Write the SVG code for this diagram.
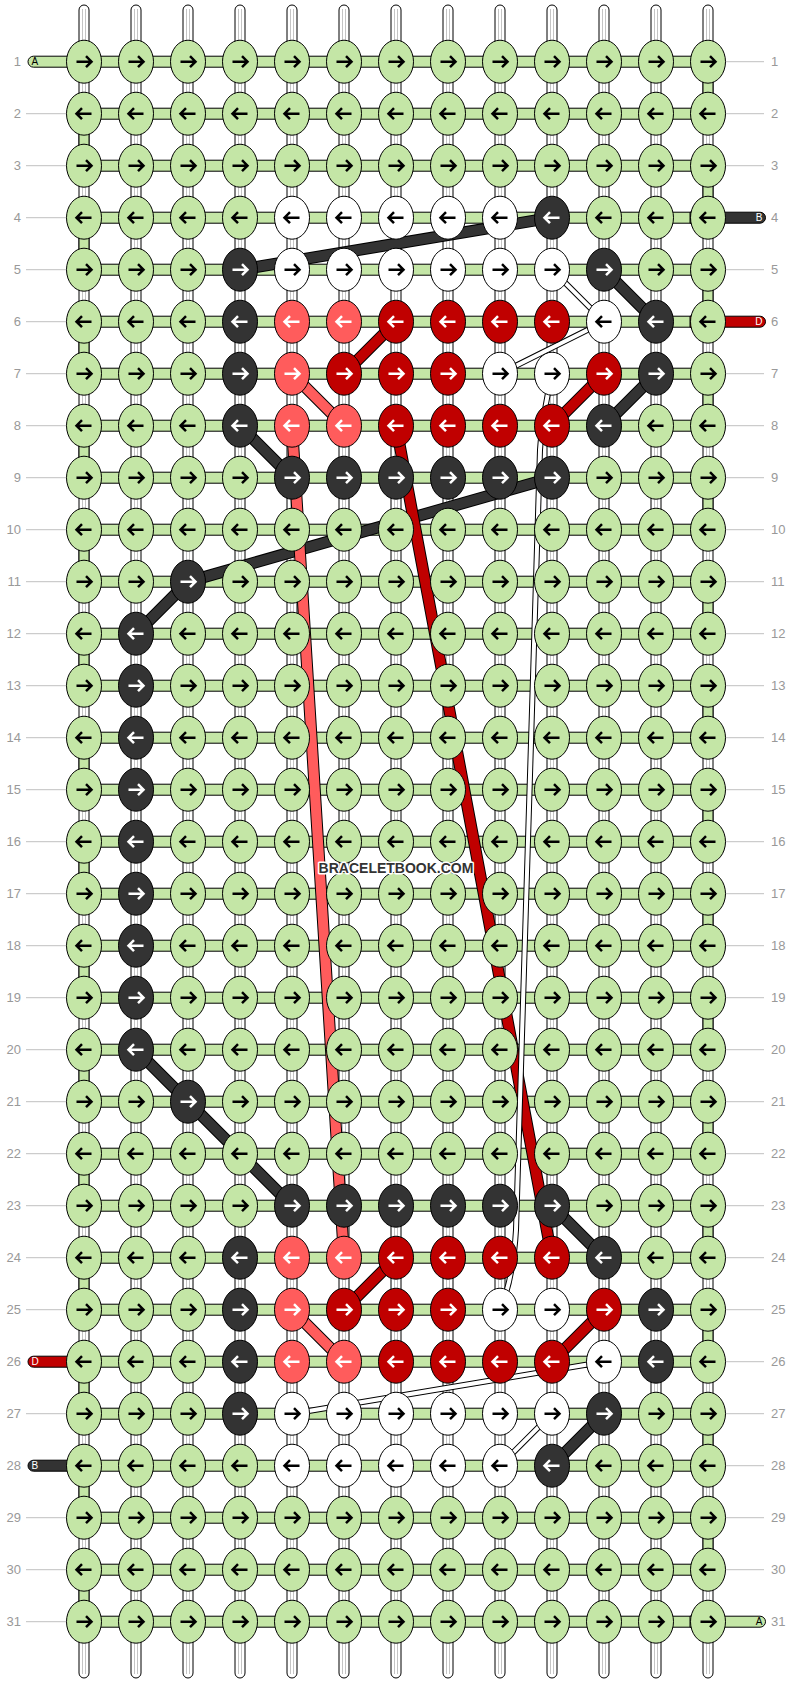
<svg xmlns="http://www.w3.org/2000/svg" xmlns:xlink="http://www.w3.org/1999/xlink" width="792" height="1684" viewBox="0 0 792 1684">
<style>
.t{font-family:"Liberation Sans",Arial,sans-serif;font-size:13px;fill:#999}
.tl{font-family:"Liberation Sans",Arial,sans-serif;font-size:10px}
.ln{stroke:#c0c0c0;stroke-width:1}
.ab{stroke:#000;stroke-width:2.5;fill:none}
.aw{stroke:#fff;stroke-width:2.5;fill:none}
.k{stroke:#000;stroke-width:1}
.G{fill:#c4e6a6}.W{fill:#fff}.D{fill:#333}.R{fill:#c00000}.S{fill:#ff5c5c}
.vs{fill:#fff;stroke:#000;stroke-width:1}
.vc{stroke:#c4c4c4;stroke-width:1;fill:none}
.hb{fill:#c4e6a6;stroke:#000;stroke-width:1}
.ge{fill:#c4e6a6;stroke:#000;stroke-width:1}
.o12{stroke:#000;stroke-width:12;fill:none}
.cd{stroke:#333;stroke-width:10;fill:none}
.cr{stroke:#c00000;stroke-width:10;fill:none}
.cs{stroke:#ff5c5c;stroke-width:10;fill:none}
.o6{stroke:#000;stroke-width:6;fill:none}
.cw{stroke:#fff;stroke-width:4;fill:none}
</style>
<defs>
<path id="pr" d="M-7.5,0H7.5M2,-5.5L7.5,0L2,5.5"/>
<path id="pl" d="M7.5,0H-7.5M-2,-5.5L-7.5,0L-2,5.5"/>
<g id="gR"><ellipse class="k G" rx="17.5" ry="21.5"/><use href="#pr" class="ab"/></g>
<g id="gL"><ellipse class="k G" rx="17.5" ry="21.5"/><use href="#pl" class="ab"/></g>
<g id="wR"><ellipse class="k W" rx="17.5" ry="21.5"/><use href="#pr" class="ab"/></g>
<g id="wL"><ellipse class="k W" rx="17.5" ry="21.5"/><use href="#pl" class="ab"/></g>
<g id="dR"><ellipse class="k D" rx="17.5" ry="21.5"/><use href="#pr" class="aw"/></g>
<g id="dL"><ellipse class="k D" rx="17.5" ry="21.5"/><use href="#pl" class="aw"/></g>
<g id="rR"><ellipse class="k R" rx="17.5" ry="21.5"/><use href="#pr" class="aw"/></g>
<g id="rL"><ellipse class="k R" rx="17.5" ry="21.5"/><use href="#pl" class="aw"/></g>
<g id="sR"><ellipse class="k S" rx="17.5" ry="21.5"/><use href="#pr" class="aw"/></g>
<g id="sL"><ellipse class="k S" rx="17.5" ry="21.5"/><use href="#pl" class="aw"/></g>
<g id="vcol"><rect class="vs" x="-5" y="5" width="10" height="1673" rx="5"/><path class="vc" d="M-1.5,9V1674M1.5,9V1674"/></g>
</defs>
<rect width="792" height="1684" fill="#fff"/>
<g id="labels">
<g class="t" text-anchor="end">
<text x="21" y="66">1</text><text x="21" y="118">2</text><text x="21" y="170">3</text><text x="21" y="222">4</text><text x="21" y="274">5</text><text x="21" y="326">6</text><text x="21" y="378">7</text><text x="21" y="430">8</text><text x="21" y="482">9</text><text x="21" y="534">10</text><text x="21" y="586">11</text><text x="21" y="638">12</text><text x="21" y="690">13</text><text x="21" y="742">14</text><text x="21" y="794">15</text><text x="21" y="846">16</text><text x="21" y="898">17</text><text x="21" y="950">18</text><text x="21" y="1002">19</text><text x="21" y="1054">20</text><text x="21" y="1106">21</text><text x="21" y="1158">22</text><text x="21" y="1210">23</text><text x="21" y="1262">24</text><text x="21" y="1314">25</text><text x="21" y="1366">26</text><text x="21" y="1418">27</text><text x="21" y="1470">28</text><text x="21" y="1522">29</text><text x="21" y="1574">30</text><text x="21" y="1626">31</text>
</g>
<g class="t">
<text x="771" y="66">1</text><text x="771" y="118">2</text><text x="771" y="170">3</text><text x="771" y="222">4</text><text x="771" y="274">5</text><text x="771" y="326">6</text><text x="771" y="378">7</text><text x="771" y="430">8</text><text x="771" y="482">9</text><text x="771" y="534">10</text><text x="771" y="586">11</text><text x="771" y="638">12</text><text x="771" y="690">13</text><text x="771" y="742">14</text><text x="771" y="794">15</text><text x="771" y="846">16</text><text x="771" y="898">17</text><text x="771" y="950">18</text><text x="771" y="1002">19</text><text x="771" y="1054">20</text><text x="771" y="1106">21</text><text x="771" y="1158">22</text><text x="771" y="1210">23</text><text x="771" y="1262">24</text><text x="771" y="1314">25</text><text x="771" y="1366">26</text><text x="771" y="1418">27</text><text x="771" y="1470">28</text><text x="771" y="1522">29</text><text x="771" y="1574">30</text><text x="771" y="1626">31</text>
</g>
<path class="ln" d="M26,113.7H66M26,165.7H66M26,217.7H66M26,269.7H66M26,321.7H66M26,373.7H66M26,425.7H66M26,477.7H66M26,529.7H66M26,581.7H66M26,633.7H66M26,685.7H66M26,737.7H66M26,789.7H66M26,841.7H66M26,893.7H66M26,945.7H66M26,997.7H66M26,1049.7H66M26,1101.7H66M26,1153.7H66M26,1205.7H66M26,1257.7H66M26,1309.7H66M26,1413.7H66M26,1517.7H66M26,1569.7H66M26,1621.7H66"/>
<path class="ln" d="M726,61.7H764M726,113.7H764M726,165.7H764M726,269.7H764M726,373.7H764M726,425.7H764M726,477.7H764M726,529.7H764M726,581.7H764M726,633.7H764M726,685.7H764M726,737.7H764M726,789.7H764M726,841.7H764M726,893.7H764M726,945.7H764M726,997.7H764M726,1049.7H764M726,1101.7H764M726,1153.7H764M726,1205.7H764M726,1257.7H764M726,1309.7H764M726,1361.7H764M726,1413.7H764M726,1465.7H764M726,1517.7H764M726,1569.7H764"/>
</g>
<g id="strings">
<use href="#vcol" x="84"/><use href="#vcol" x="136"/><use href="#vcol" x="188"/><use href="#vcol" x="240"/><use href="#vcol" x="292"/><use href="#vcol" x="344"/><use href="#vcol" x="396"/><use href="#vcol" x="448"/><use href="#vcol" x="500"/><use href="#vcol" x="552"/><use href="#vcol" x="604"/><use href="#vcol" x="656"/><use href="#vcol" x="708"/>
<g class="ge">
<rect x="79" y="113.7" width="10" height="52"/><rect x="79" y="217.7" width="10" height="52"/><rect x="79" y="321.7" width="10" height="52"/><rect x="79" y="425.7" width="10" height="52"/><rect x="79" y="529.7" width="10" height="52"/><rect x="79" y="633.7" width="10" height="52"/><rect x="79" y="737.7" width="10" height="52"/><rect x="79" y="841.7" width="10" height="52"/><rect x="79" y="945.7" width="10" height="52"/><rect x="79" y="1049.7" width="10" height="52"/><rect x="79" y="1153.7" width="10" height="52"/><rect x="79" y="1257.7" width="10" height="52"/><rect x="79" y="1361.7" width="10" height="52"/><rect x="79" y="1465.7" width="10" height="52"/><rect x="79" y="1569.7" width="10" height="52"/>
<rect x="703" y="61.7" width="10" height="52"/><rect x="703" y="165.7" width="10" height="52"/><rect x="703" y="269.7" width="10" height="52"/><rect x="703" y="373.7" width="10" height="52"/><rect x="703" y="477.7" width="10" height="52"/><rect x="703" y="581.7" width="10" height="52"/><rect x="703" y="685.7" width="10" height="52"/><rect x="703" y="789.7" width="10" height="52"/><rect x="703" y="893.7" width="10" height="52"/><rect x="703" y="997.7" width="10" height="52"/><rect x="703" y="1101.7" width="10" height="52"/><rect x="703" y="1205.7" width="10" height="52"/><rect x="703" y="1309.7" width="10" height="52"/><rect x="703" y="1413.7" width="10" height="52"/><rect x="703" y="1517.7" width="10" height="52"/>
</g>
<g class="hb">
<rect x="84" y="56.2" width="624" height="11"/><rect x="84" y="108.2" width="624" height="11"/><rect x="84" y="160.2" width="624" height="11"/><rect x="84" y="212.2" width="624" height="11"/><rect x="84" y="264.2" width="624" height="11"/><rect x="84" y="316.2" width="624" height="11"/><rect x="84" y="368.2" width="624" height="11"/><rect x="84" y="420.2" width="624" height="11"/><rect x="84" y="472.2" width="624" height="11"/><rect x="84" y="524.2" width="624" height="11"/><rect x="84" y="576.2" width="624" height="11"/><rect x="84" y="628.2" width="624" height="11"/><rect x="84" y="680.2" width="624" height="11"/><rect x="84" y="732.2" width="624" height="11"/><rect x="84" y="784.2" width="624" height="11"/><rect x="84" y="836.2" width="624" height="11"/><rect x="84" y="888.2" width="624" height="11"/><rect x="84" y="940.2" width="624" height="11"/><rect x="84" y="992.2" width="624" height="11"/><rect x="84" y="1044.2" width="624" height="11"/><rect x="84" y="1096.2" width="624" height="11"/><rect x="84" y="1148.2" width="624" height="11"/><rect x="84" y="1200.2" width="624" height="11"/><rect x="84" y="1252.2" width="624" height="11"/><rect x="84" y="1304.2" width="624" height="11"/><rect x="84" y="1356.2" width="624" height="11"/><rect x="84" y="1408.2" width="624" height="11"/><rect x="84" y="1460.2" width="624" height="11"/><rect x="84" y="1512.2" width="624" height="11"/><rect x="84" y="1564.2" width="624" height="11"/><rect x="84" y="1616.2" width="624" height="11"/>
</g>
</g>
<g id="tails" stroke="#000" stroke-width="1">
<path d="M75,56.2H33.5a5.5,5.5 0 0 0 0,11H75Z" fill="#c4e6a6"/>
<path d="M75,1356.2H33.5a5.5,5.5 0 0 0 0,11H75Z" fill="#c00000"/>
<path d="M75,1460.2H33.5a5.5,5.5 0 0 0 0,11H75Z" fill="#333"/>
<path d="M690,212.2H760a5.5,5.5 0 0 1 0,11H690Z" fill="#333"/>
<path d="M690,316.2H760a5.5,5.5 0 0 1 0,11H690Z" fill="#c00000"/>
<path d="M690,1616.2H760a5.5,5.5 0 0 1 0,11H690Z" fill="#c4e6a6"/>
</g>
<g id="tail-labels" class="tl">
<text x="31.5" y="65.3" fill="#000">A</text>
<text x="31.5" y="1365.3" fill="#fff">D</text>
<text x="31.5" y="1469.3" fill="#fff">B</text>
<text x="762.5" y="221.3" fill="#fff" text-anchor="end">B</text>
<text x="762.5" y="325.3" fill="#fff" text-anchor="end">D</text>
<text x="762.5" y="1625.3" fill="#000" text-anchor="end">A</text>
</g>
<g id="connectors">
<path class="o12" d="M240,269.7L552,217.7M604,269.7L656,321.7M656,373.7L604,425.7M240,425.7L292,477.7M552,477.7L188,581.7L136,633.7M136,1049.7L292,1205.7M552,1205.7L604,1257.7M604,1413.7L552,1465.7"/>
<path class="cd" d="M240,269.7L552,217.7M604,269.7L656,321.7M656,373.7L604,425.7M240,425.7L292,477.7M552,477.7L188,581.7L136,633.7M136,1049.7L292,1205.7M552,1205.7L604,1257.7M604,1413.7L552,1465.7"/>
<path class="o12" d="M396,321.7L344,373.7M552,425.7L604,373.7M396,425.7L552,1257.7M344,1309.7L396,1257.7M552,1361.7L604,1309.7"/>
<path class="cr" d="M396,321.7L344,373.7M552,425.7L604,373.7M396,425.7L552,1257.7M344,1309.7L396,1257.7M552,1361.7L604,1309.7"/>
<path class="o12" d="M292,373.7L344,425.7M292,425.7L344,1257.7M292,1309.7L344,1361.7"/>
<path class="cs" d="M292,373.7L344,425.7M292,425.7L344,1257.7M292,1309.7L344,1361.7"/>
<path class="o6" d="M552,269.7L604,321.7L500,373.7M552,373.7Q542,420 540,450L516,1230Q513,1280 500,1309.7M604,1361.7L292,1413.7M552,1413.7L500,1465.7"/>
<path class="cw" d="M552,269.7L604,321.7L500,373.7M552,373.7Q542,420 540,450L516,1230Q513,1280 500,1309.7M604,1361.7L292,1413.7M552,1413.7L500,1465.7"/>
</g>
<g id="knots">
<g id="row1" transform="translate(0,61.7)"><use id="k1-1" href="#gR" x="84"/><use id="k1-2" href="#gR" x="136"/><use id="k1-3" href="#gR" x="188"/><use id="k1-4" href="#gR" x="240"/><use id="k1-5" href="#gR" x="292"/><use id="k1-6" href="#gR" x="344"/><use id="k1-7" href="#gR" x="396"/><use id="k1-8" href="#gR" x="448"/><use id="k1-9" href="#gR" x="500"/><use id="k1-10" href="#gR" x="552"/><use id="k1-11" href="#gR" x="604"/><use id="k1-12" href="#gR" x="656"/><use id="k1-13" href="#gR" x="708"/></g>
<g id="row2" transform="translate(0,113.7)"><use id="k2-1" href="#gL" x="84"/><use id="k2-2" href="#gL" x="136"/><use id="k2-3" href="#gL" x="188"/><use id="k2-4" href="#gL" x="240"/><use id="k2-5" href="#gL" x="292"/><use id="k2-6" href="#gL" x="344"/><use id="k2-7" href="#gL" x="396"/><use id="k2-8" href="#gL" x="448"/><use id="k2-9" href="#gL" x="500"/><use id="k2-10" href="#gL" x="552"/><use id="k2-11" href="#gL" x="604"/><use id="k2-12" href="#gL" x="656"/><use id="k2-13" href="#gL" x="708"/></g>
<g id="row3" transform="translate(0,165.7)"><use id="k3-1" href="#gR" x="84"/><use id="k3-2" href="#gR" x="136"/><use id="k3-3" href="#gR" x="188"/><use id="k3-4" href="#gR" x="240"/><use id="k3-5" href="#gR" x="292"/><use id="k3-6" href="#gR" x="344"/><use id="k3-7" href="#gR" x="396"/><use id="k3-8" href="#gR" x="448"/><use id="k3-9" href="#gR" x="500"/><use id="k3-10" href="#gR" x="552"/><use id="k3-11" href="#gR" x="604"/><use id="k3-12" href="#gR" x="656"/><use id="k3-13" href="#gR" x="708"/></g>
<g id="row4" transform="translate(0,217.7)"><use id="k4-1" href="#gL" x="84"/><use id="k4-2" href="#gL" x="136"/><use id="k4-3" href="#gL" x="188"/><use id="k4-4" href="#gL" x="240"/><use id="k4-5" href="#wL" x="292"/><use id="k4-6" href="#wL" x="344"/><use id="k4-7" href="#wL" x="396"/><use id="k4-8" href="#wL" x="448"/><use id="k4-9" href="#wL" x="500"/><use id="k4-10" href="#dL" x="552"/><use id="k4-11" href="#gL" x="604"/><use id="k4-12" href="#gL" x="656"/><use id="k4-13" href="#gL" x="708"/></g>
<g id="row5" transform="translate(0,269.7)"><use id="k5-1" href="#gR" x="84"/><use id="k5-2" href="#gR" x="136"/><use id="k5-3" href="#gR" x="188"/><use id="k5-4" href="#dR" x="240"/><use id="k5-5" href="#wR" x="292"/><use id="k5-6" href="#wR" x="344"/><use id="k5-7" href="#wR" x="396"/><use id="k5-8" href="#wR" x="448"/><use id="k5-9" href="#wR" x="500"/><use id="k5-10" href="#wR" x="552"/><use id="k5-11" href="#dR" x="604"/><use id="k5-12" href="#gR" x="656"/><use id="k5-13" href="#gR" x="708"/></g>
<g id="row6" transform="translate(0,321.7)"><use id="k6-1" href="#gL" x="84"/><use id="k6-2" href="#gL" x="136"/><use id="k6-3" href="#gL" x="188"/><use id="k6-4" href="#dL" x="240"/><use id="k6-5" href="#sL" x="292"/><use id="k6-6" href="#sL" x="344"/><use id="k6-7" href="#rL" x="396"/><use id="k6-8" href="#rL" x="448"/><use id="k6-9" href="#rL" x="500"/><use id="k6-10" href="#rL" x="552"/><use id="k6-11" href="#wL" x="604"/><use id="k6-12" href="#dL" x="656"/><use id="k6-13" href="#gL" x="708"/></g>
<g id="row7" transform="translate(0,373.7)"><use id="k7-1" href="#gR" x="84"/><use id="k7-2" href="#gR" x="136"/><use id="k7-3" href="#gR" x="188"/><use id="k7-4" href="#dR" x="240"/><use id="k7-5" href="#sR" x="292"/><use id="k7-6" href="#rR" x="344"/><use id="k7-7" href="#rR" x="396"/><use id="k7-8" href="#rR" x="448"/><use id="k7-9" href="#wR" x="500"/><use id="k7-10" href="#wR" x="552"/><use id="k7-11" href="#rR" x="604"/><use id="k7-12" href="#dR" x="656"/><use id="k7-13" href="#gR" x="708"/></g>
<g id="row8" transform="translate(0,425.7)"><use id="k8-1" href="#gL" x="84"/><use id="k8-2" href="#gL" x="136"/><use id="k8-3" href="#gL" x="188"/><use id="k8-4" href="#dL" x="240"/><use id="k8-5" href="#sL" x="292"/><use id="k8-6" href="#sL" x="344"/><use id="k8-7" href="#rL" x="396"/><use id="k8-8" href="#rL" x="448"/><use id="k8-9" href="#rL" x="500"/><use id="k8-10" href="#rL" x="552"/><use id="k8-11" href="#dL" x="604"/><use id="k8-12" href="#gL" x="656"/><use id="k8-13" href="#gL" x="708"/></g>
<g id="row9" transform="translate(0,477.7)"><use id="k9-1" href="#gR" x="84"/><use id="k9-2" href="#gR" x="136"/><use id="k9-3" href="#gR" x="188"/><use id="k9-4" href="#gR" x="240"/><use id="k9-5" href="#dR" x="292"/><use id="k9-6" href="#dR" x="344"/><use id="k9-7" href="#dR" x="396"/><use id="k9-8" href="#dR" x="448"/><use id="k9-9" href="#dR" x="500"/><use id="k9-10" href="#dR" x="552"/><use id="k9-11" href="#gR" x="604"/><use id="k9-12" href="#gR" x="656"/><use id="k9-13" href="#gR" x="708"/></g>
<g id="row10" transform="translate(0,529.7)"><use id="k10-1" href="#gL" x="84"/><use id="k10-2" href="#gL" x="136"/><use id="k10-3" href="#gL" x="188"/><use id="k10-4" href="#gL" x="240"/><use id="k10-5" href="#gL" x="292"/><use id="k10-6" href="#gL" x="344"/><use id="k10-7" href="#gL" x="396"/><use id="k10-8" href="#gL" x="448"/><use id="k10-9" href="#gL" x="500"/><use id="k10-10" href="#gL" x="552"/><use id="k10-11" href="#gL" x="604"/><use id="k10-12" href="#gL" x="656"/><use id="k10-13" href="#gL" x="708"/></g>
<g id="row11" transform="translate(0,581.7)"><use id="k11-1" href="#gR" x="84"/><use id="k11-2" href="#gR" x="136"/><use id="k11-3" href="#dR" x="188"/><use id="k11-4" href="#gR" x="240"/><use id="k11-5" href="#gR" x="292"/><use id="k11-6" href="#gR" x="344"/><use id="k11-7" href="#gR" x="396"/><use id="k11-8" href="#gR" x="448"/><use id="k11-9" href="#gR" x="500"/><use id="k11-10" href="#gR" x="552"/><use id="k11-11" href="#gR" x="604"/><use id="k11-12" href="#gR" x="656"/><use id="k11-13" href="#gR" x="708"/></g>
<g id="row12" transform="translate(0,633.7)"><use id="k12-1" href="#gL" x="84"/><use id="k12-2" href="#dL" x="136"/><use id="k12-3" href="#gL" x="188"/><use id="k12-4" href="#gL" x="240"/><use id="k12-5" href="#gL" x="292"/><use id="k12-6" href="#gL" x="344"/><use id="k12-7" href="#gL" x="396"/><use id="k12-8" href="#gL" x="448"/><use id="k12-9" href="#gL" x="500"/><use id="k12-10" href="#gL" x="552"/><use id="k12-11" href="#gL" x="604"/><use id="k12-12" href="#gL" x="656"/><use id="k12-13" href="#gL" x="708"/></g>
<g id="row13" transform="translate(0,685.7)"><use id="k13-1" href="#gR" x="84"/><use id="k13-2" href="#dR" x="136"/><use id="k13-3" href="#gR" x="188"/><use id="k13-4" href="#gR" x="240"/><use id="k13-5" href="#gR" x="292"/><use id="k13-6" href="#gR" x="344"/><use id="k13-7" href="#gR" x="396"/><use id="k13-8" href="#gR" x="448"/><use id="k13-9" href="#gR" x="500"/><use id="k13-10" href="#gR" x="552"/><use id="k13-11" href="#gR" x="604"/><use id="k13-12" href="#gR" x="656"/><use id="k13-13" href="#gR" x="708"/></g>
<g id="row14" transform="translate(0,737.7)"><use id="k14-1" href="#gL" x="84"/><use id="k14-2" href="#dL" x="136"/><use id="k14-3" href="#gL" x="188"/><use id="k14-4" href="#gL" x="240"/><use id="k14-5" href="#gL" x="292"/><use id="k14-6" href="#gL" x="344"/><use id="k14-7" href="#gL" x="396"/><use id="k14-8" href="#gL" x="448"/><use id="k14-9" href="#gL" x="500"/><use id="k14-10" href="#gL" x="552"/><use id="k14-11" href="#gL" x="604"/><use id="k14-12" href="#gL" x="656"/><use id="k14-13" href="#gL" x="708"/></g>
<g id="row15" transform="translate(0,789.7)"><use id="k15-1" href="#gR" x="84"/><use id="k15-2" href="#dR" x="136"/><use id="k15-3" href="#gR" x="188"/><use id="k15-4" href="#gR" x="240"/><use id="k15-5" href="#gR" x="292"/><use id="k15-6" href="#gR" x="344"/><use id="k15-7" href="#gR" x="396"/><use id="k15-8" href="#gR" x="448"/><use id="k15-9" href="#gR" x="500"/><use id="k15-10" href="#gR" x="552"/><use id="k15-11" href="#gR" x="604"/><use id="k15-12" href="#gR" x="656"/><use id="k15-13" href="#gR" x="708"/></g>
<g id="row16" transform="translate(0,841.7)"><use id="k16-1" href="#gL" x="84"/><use id="k16-2" href="#dL" x="136"/><use id="k16-3" href="#gL" x="188"/><use id="k16-4" href="#gL" x="240"/><use id="k16-5" href="#gL" x="292"/><use id="k16-6" href="#gL" x="344"/><use id="k16-7" href="#gL" x="396"/><use id="k16-8" href="#gL" x="448"/><use id="k16-9" href="#gL" x="500"/><use id="k16-10" href="#gL" x="552"/><use id="k16-11" href="#gL" x="604"/><use id="k16-12" href="#gL" x="656"/><use id="k16-13" href="#gL" x="708"/></g>
<g id="row17" transform="translate(0,893.7)"><use id="k17-1" href="#gR" x="84"/><use id="k17-2" href="#dR" x="136"/><use id="k17-3" href="#gR" x="188"/><use id="k17-4" href="#gR" x="240"/><use id="k17-5" href="#gR" x="292"/><use id="k17-6" href="#gR" x="344"/><use id="k17-7" href="#gR" x="396"/><use id="k17-8" href="#gR" x="448"/><use id="k17-9" href="#gR" x="500"/><use id="k17-10" href="#gR" x="552"/><use id="k17-11" href="#gR" x="604"/><use id="k17-12" href="#gR" x="656"/><use id="k17-13" href="#gR" x="708"/></g>
<g id="row18" transform="translate(0,945.7)"><use id="k18-1" href="#gL" x="84"/><use id="k18-2" href="#dL" x="136"/><use id="k18-3" href="#gL" x="188"/><use id="k18-4" href="#gL" x="240"/><use id="k18-5" href="#gL" x="292"/><use id="k18-6" href="#gL" x="344"/><use id="k18-7" href="#gL" x="396"/><use id="k18-8" href="#gL" x="448"/><use id="k18-9" href="#gL" x="500"/><use id="k18-10" href="#gL" x="552"/><use id="k18-11" href="#gL" x="604"/><use id="k18-12" href="#gL" x="656"/><use id="k18-13" href="#gL" x="708"/></g>
<g id="row19" transform="translate(0,997.7)"><use id="k19-1" href="#gR" x="84"/><use id="k19-2" href="#dR" x="136"/><use id="k19-3" href="#gR" x="188"/><use id="k19-4" href="#gR" x="240"/><use id="k19-5" href="#gR" x="292"/><use id="k19-6" href="#gR" x="344"/><use id="k19-7" href="#gR" x="396"/><use id="k19-8" href="#gR" x="448"/><use id="k19-9" href="#gR" x="500"/><use id="k19-10" href="#gR" x="552"/><use id="k19-11" href="#gR" x="604"/><use id="k19-12" href="#gR" x="656"/><use id="k19-13" href="#gR" x="708"/></g>
<g id="row20" transform="translate(0,1049.7)"><use id="k20-1" href="#gL" x="84"/><use id="k20-2" href="#dL" x="136"/><use id="k20-3" href="#gL" x="188"/><use id="k20-4" href="#gL" x="240"/><use id="k20-5" href="#gL" x="292"/><use id="k20-6" href="#gL" x="344"/><use id="k20-7" href="#gL" x="396"/><use id="k20-8" href="#gL" x="448"/><use id="k20-9" href="#gL" x="500"/><use id="k20-10" href="#gL" x="552"/><use id="k20-11" href="#gL" x="604"/><use id="k20-12" href="#gL" x="656"/><use id="k20-13" href="#gL" x="708"/></g>
<g id="row21" transform="translate(0,1101.7)"><use id="k21-1" href="#gR" x="84"/><use id="k21-2" href="#gR" x="136"/><use id="k21-3" href="#dR" x="188"/><use id="k21-4" href="#gR" x="240"/><use id="k21-5" href="#gR" x="292"/><use id="k21-6" href="#gR" x="344"/><use id="k21-7" href="#gR" x="396"/><use id="k21-8" href="#gR" x="448"/><use id="k21-9" href="#gR" x="500"/><use id="k21-10" href="#gR" x="552"/><use id="k21-11" href="#gR" x="604"/><use id="k21-12" href="#gR" x="656"/><use id="k21-13" href="#gR" x="708"/></g>
<g id="row22" transform="translate(0,1153.7)"><use id="k22-1" href="#gL" x="84"/><use id="k22-2" href="#gL" x="136"/><use id="k22-3" href="#gL" x="188"/><use id="k22-4" href="#gL" x="240"/><use id="k22-5" href="#gL" x="292"/><use id="k22-6" href="#gL" x="344"/><use id="k22-7" href="#gL" x="396"/><use id="k22-8" href="#gL" x="448"/><use id="k22-9" href="#gL" x="500"/><use id="k22-10" href="#gL" x="552"/><use id="k22-11" href="#gL" x="604"/><use id="k22-12" href="#gL" x="656"/><use id="k22-13" href="#gL" x="708"/></g>
<g id="row23" transform="translate(0,1205.7)"><use id="k23-1" href="#gR" x="84"/><use id="k23-2" href="#gR" x="136"/><use id="k23-3" href="#gR" x="188"/><use id="k23-4" href="#gR" x="240"/><use id="k23-5" href="#dR" x="292"/><use id="k23-6" href="#dR" x="344"/><use id="k23-7" href="#dR" x="396"/><use id="k23-8" href="#dR" x="448"/><use id="k23-9" href="#dR" x="500"/><use id="k23-10" href="#dR" x="552"/><use id="k23-11" href="#gR" x="604"/><use id="k23-12" href="#gR" x="656"/><use id="k23-13" href="#gR" x="708"/></g>
<g id="row24" transform="translate(0,1257.7)"><use id="k24-1" href="#gL" x="84"/><use id="k24-2" href="#gL" x="136"/><use id="k24-3" href="#gL" x="188"/><use id="k24-4" href="#dL" x="240"/><use id="k24-5" href="#sL" x="292"/><use id="k24-6" href="#sL" x="344"/><use id="k24-7" href="#rL" x="396"/><use id="k24-8" href="#rL" x="448"/><use id="k24-9" href="#rL" x="500"/><use id="k24-10" href="#rL" x="552"/><use id="k24-11" href="#dL" x="604"/><use id="k24-12" href="#gL" x="656"/><use id="k24-13" href="#gL" x="708"/></g>
<g id="row25" transform="translate(0,1309.7)"><use id="k25-1" href="#gR" x="84"/><use id="k25-2" href="#gR" x="136"/><use id="k25-3" href="#gR" x="188"/><use id="k25-4" href="#dR" x="240"/><use id="k25-5" href="#sR" x="292"/><use id="k25-6" href="#rR" x="344"/><use id="k25-7" href="#rR" x="396"/><use id="k25-8" href="#rR" x="448"/><use id="k25-9" href="#wR" x="500"/><use id="k25-10" href="#wR" x="552"/><use id="k25-11" href="#rR" x="604"/><use id="k25-12" href="#dR" x="656"/><use id="k25-13" href="#gR" x="708"/></g>
<g id="row26" transform="translate(0,1361.7)"><use id="k26-1" href="#gL" x="84"/><use id="k26-2" href="#gL" x="136"/><use id="k26-3" href="#gL" x="188"/><use id="k26-4" href="#dL" x="240"/><use id="k26-5" href="#sL" x="292"/><use id="k26-6" href="#sL" x="344"/><use id="k26-7" href="#rL" x="396"/><use id="k26-8" href="#rL" x="448"/><use id="k26-9" href="#rL" x="500"/><use id="k26-10" href="#rL" x="552"/><use id="k26-11" href="#wL" x="604"/><use id="k26-12" href="#dL" x="656"/><use id="k26-13" href="#gL" x="708"/></g>
<g id="row27" transform="translate(0,1413.7)"><use id="k27-1" href="#gR" x="84"/><use id="k27-2" href="#gR" x="136"/><use id="k27-3" href="#gR" x="188"/><use id="k27-4" href="#dR" x="240"/><use id="k27-5" href="#wR" x="292"/><use id="k27-6" href="#wR" x="344"/><use id="k27-7" href="#wR" x="396"/><use id="k27-8" href="#wR" x="448"/><use id="k27-9" href="#wR" x="500"/><use id="k27-10" href="#wR" x="552"/><use id="k27-11" href="#dR" x="604"/><use id="k27-12" href="#gR" x="656"/><use id="k27-13" href="#gR" x="708"/></g>
<g id="row28" transform="translate(0,1465.7)"><use id="k28-1" href="#gL" x="84"/><use id="k28-2" href="#gL" x="136"/><use id="k28-3" href="#gL" x="188"/><use id="k28-4" href="#gL" x="240"/><use id="k28-5" href="#wL" x="292"/><use id="k28-6" href="#wL" x="344"/><use id="k28-7" href="#wL" x="396"/><use id="k28-8" href="#wL" x="448"/><use id="k28-9" href="#wL" x="500"/><use id="k28-10" href="#dL" x="552"/><use id="k28-11" href="#gL" x="604"/><use id="k28-12" href="#gL" x="656"/><use id="k28-13" href="#gL" x="708"/></g>
<g id="row29" transform="translate(0,1517.7)"><use id="k29-1" href="#gR" x="84"/><use id="k29-2" href="#gR" x="136"/><use id="k29-3" href="#gR" x="188"/><use id="k29-4" href="#gR" x="240"/><use id="k29-5" href="#gR" x="292"/><use id="k29-6" href="#gR" x="344"/><use id="k29-7" href="#gR" x="396"/><use id="k29-8" href="#gR" x="448"/><use id="k29-9" href="#gR" x="500"/><use id="k29-10" href="#gR" x="552"/><use id="k29-11" href="#gR" x="604"/><use id="k29-12" href="#gR" x="656"/><use id="k29-13" href="#gR" x="708"/></g>
<g id="row30" transform="translate(0,1569.7)"><use id="k30-1" href="#gL" x="84"/><use id="k30-2" href="#gL" x="136"/><use id="k30-3" href="#gL" x="188"/><use id="k30-4" href="#gL" x="240"/><use id="k30-5" href="#gL" x="292"/><use id="k30-6" href="#gL" x="344"/><use id="k30-7" href="#gL" x="396"/><use id="k30-8" href="#gL" x="448"/><use id="k30-9" href="#gL" x="500"/><use id="k30-10" href="#gL" x="552"/><use id="k30-11" href="#gL" x="604"/><use id="k30-12" href="#gL" x="656"/><use id="k30-13" href="#gL" x="708"/></g>
<g id="row31" transform="translate(0,1621.7)"><use id="k31-1" href="#gR" x="84"/><use id="k31-2" href="#gR" x="136"/><use id="k31-3" href="#gR" x="188"/><use id="k31-4" href="#gR" x="240"/><use id="k31-5" href="#gR" x="292"/><use id="k31-6" href="#gR" x="344"/><use id="k31-7" href="#gR" x="396"/><use id="k31-8" href="#gR" x="448"/><use id="k31-9" href="#gR" x="500"/><use id="k31-10" href="#gR" x="552"/><use id="k31-11" href="#gR" x="604"/><use id="k31-12" href="#gR" x="656"/><use id="k31-13" href="#gR" x="708"/></g>
</g>
<text id="watermark" x="396" y="873" text-anchor="middle" font-family="'Liberation Sans',Arial,sans-serif" font-size="14" font-weight="bold" fill="#333" stroke="#fff" stroke-width="3" stroke-linejoin="round" paint-order="stroke">BRACELETBOOK.COM</text>
</svg>
